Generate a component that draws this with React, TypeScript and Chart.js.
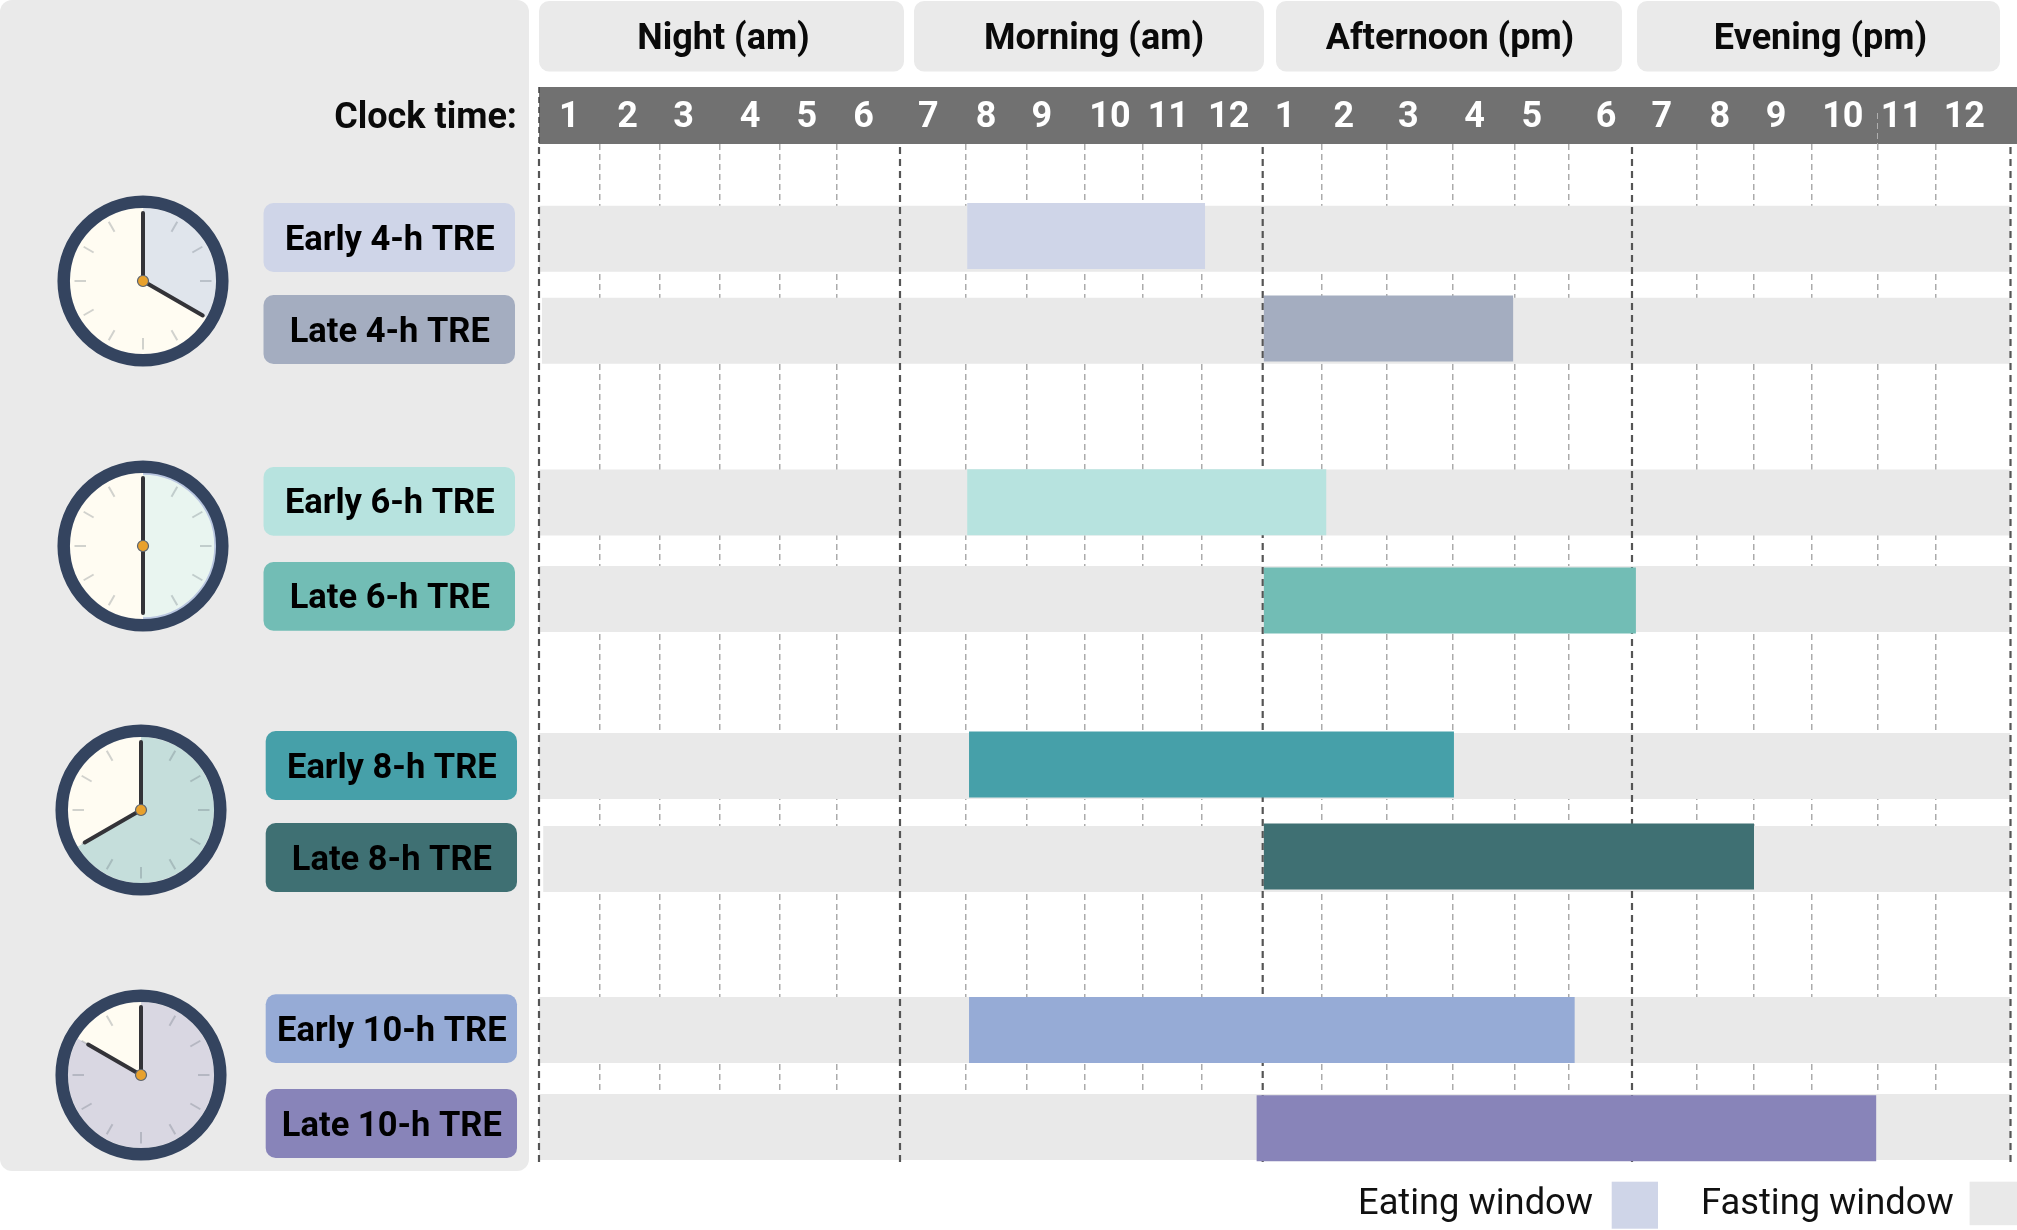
import React, { useEffect, useRef } from "react";
import { Chart, registerables, LinearScale, CategoryScale } from "chart.js";

// ---------- data ----------
const categories = [
  "Early 4-h TRE", "Late 4-h TRE",
  "Early 6-h TRE", "Late 6-h TRE",
  "Early 8-h TRE", "Late 8-h TRE",
  "Early 10-h TRE", "Late 10-h TRE",
];
const eatingStart = [8.02, 13.02, 8.02, 13.02, 8.05, 13.02, 8.05, 12.9];
const eatingEnd = [12.05, 16.97, 14.07, 19.06, 16.02, 21.0, 18.09, 22.98];
const fastingStart = [1, 1.05, 1, 1, 1, 1.07, 1, 1];
const fastingEnd = [25, 25, 25, 25, 25, 25, 25, 25];
const hourLabels = ["1","2","3","4","5","6","7","8","9","10","11","12","1","2","3","4","5","6","7","8","9","10","11","12"];
const hourLabelAt = [1.5,2.47,3.4,4.5,5.47,6.42,7.43,8.33,9.26,10.43,11.43,12.44,13.38,14.34,15.33,16.35,17.31,18.59,19.46,20.4,21.38,22.47,23.41,24.38];
const gridHours = [1,2,3,4,5,6,7,8,9,10,11,12,13,14,15,16,17,18,19,20,21,22,23,24,25];
const majorHours = [1, 7, 13, 19, 25];
const periods = ["Night (am)", "Morning (am)", "Afternoon (pm)", "Evening (pm)"];
const clockHours = [4, 6, 8, 10];

// ---------- styles & layout ----------
const barColors = ["#CFD5E8","#A4ADC0","#B7E3DF","#72BDB5","#46A0A9","#3F7073","#96ABD6","#8884B9"];
const clockSectors = ["#E0E5EC","#E9F5F0","#C5DEDB","#D9D7E2"];
const GREY = "#E9E9E9";
const FONT = "Roboto";
const W = 2017, H = 1230;
const hourPixels = [539,599.5,659.5,720,780,837,900,966,1026.6,1085,1143,1202,1262.7,1321.7,1386.6,1452.7,1515,1569,1632,1697,1754,1812,1877.5,1936,2010.5];
const rowCenters: Record<string, number[]> = {
  yFast: [238.7, 330.8, 502.5, 599, 766, 859, 1030, 1127],
  yEat: [236, 328.5, 502.3, 600.5, 764.5, 856.5, 1030, 1128.3],
};
const pillBoxes = [
  [263.5, 203, 515, 272], [263.5, 295, 515, 364],
  [263.5, 467, 515, 535.7], [263.5, 562, 515, 630.7],
  [265.7, 731, 517, 800], [265.7, 823, 517, 892],
  [265.7, 994.3, 517, 1063], [265.7, 1089, 517, 1158],
];
const periodBoxes = [[539, 904], [914, 1264], [1276, 1622], [1637, 2000]];
const periodTextShift = [2, 5, 1, 2];
const clockCenters = [[143, 280.5], [143, 546], [141, 810.4], [141, 1075]];
const handLengths = [69, 67, 65, 61];

// ---------- scales: non-uniform hour axis and hand-spaced rows ----------
class HourScale extends LinearScale {
  static id = "hour";
  static defaults = LinearScale.defaults;
  getPixelForValue(v: number) {
    const c = Math.max(1, Math.min(25, v));
    const i = Math.min(23, Math.floor(c) - 1);
    return hourPixels[i] + (c - 1 - i) * (hourPixels[i + 1] - hourPixels[i]);
  }
  getValueForPixel(p: number) {
    for (let i = 0; i < 24; i++) {
      if (p <= hourPixels[i + 1]) return i + 1 + (p - hourPixels[i]) / (hourPixels[i + 1] - hourPixels[i]);
    }
    return 25;
  }
}
class RowScale extends CategoryScale {
  static id = "row";
  static defaults = CategoryScale.defaults;
  getPixelForValue(v: number) {
    return rowCenters[this.id][Math.round(v)];
  }
}
Chart.register(...registerables, HourScale, RowScale);

function roundRect(ctx: CanvasRenderingContext2D, x0: number, y0: number, x1: number, y1: number, r: number, color: string) {
  ctx.beginPath();
  ctx.roundRect(x0, y0, x1 - x0, y1 - y0, r);
  ctx.fillStyle = color;
  ctx.fill();
}

const backdropPlugin = {
  id: "backdrop",
  beforeDraw(chart: any) {
    const ctx: CanvasRenderingContext2D = chart.ctx;
    ctx.save();
    roundRect(ctx, 0, 0, 529, 1171, 12, "#EAEAEA");
    periodBoxes.forEach(([a, b]) => roundRect(ctx, a, 1, b, 71.5, 10, "#EAEAEA"));
    ctx.fillStyle = "#717171";
    ctx.fillRect(539, 87, 2017 - 539, 57);
    // dashed marks running through the clock-time band
    const xs = chart.scales.x;
    ctx.lineWidth = 1;
    ctx.setLineDash([6, 4]);
    ctx.strokeStyle = "#AFAFAF";
    ctx.beginPath();
    ctx.moveTo(xs.getPixelForValue(23), 113);
    ctx.lineTo(xs.getPixelForValue(23), 144);
    ctx.stroke();
    ctx.strokeStyle = "#444";
    ctx.lineWidth = 1.5;
    ctx.beginPath();
    ctx.moveTo(xs.getPixelForValue(1), 87);
    ctx.lineTo(xs.getPixelForValue(1), 144);
    ctx.stroke();
    ctx.setLineDash([]);
    ctx.restore();
  },
  afterDraw(chart: any) {
    const ctx: CanvasRenderingContext2D = chart.ctx;
    ctx.save();
    ctx.textBaseline = "alphabetic";
    // period headers
    ctx.fillStyle = "#0A0A0A";
    ctx.textAlign = "center";
    ctx.font = `bold 36px ${FONT}`;
    periods.forEach((t, i) => ctx.fillText(t, (periodBoxes[i][0] + periodBoxes[i][1]) / 2 + periodTextShift[i], 49));
    // clock time
    ctx.textAlign = "right";
    ctx.font = `bold 36px ${FONT}`;
    ctx.fillText("Clock time:", 517, 128);
    // row pills
    categories.forEach((t, i) => {
      const [a, b, c, d] = pillBoxes[i];
      roundRect(ctx, a, b, c, d, 10, barColors[i]);
      ctx.fillStyle = "#000";
      ctx.textAlign = "center";
      ctx.font = `bold 34.5px ${FONT}`;
      ctx.fillText(t, (a + c) / 2 + 0.5, (b + d) / 2 + 12);
    });
    // legend
    ctx.font = `36.3px ${FONT}`;
    ctx.fillStyle = "#111";
    ctx.textAlign = "left";
    ctx.fillText("Eating window", 1358, 1214);
    ctx.fillText("Fasting window", 1701, 1214);
    ctx.fillStyle = barColors[0];
    ctx.fillRect(1611.7, 1181.7, 46.3, 47);
    ctx.fillStyle = GREY;
    ctx.fillRect(1969.6, 1181.7, 47.4, 43.5);
    ctx.restore();
  },
};

const noWidth = (s: any) => { s.width = 0; };
const fixHorizontal = (height: number) => (s: any) => {
  s.height = height;
  s.paddingLeft = 0;
  s.paddingRight = 0;
};

function MainChart() {
  const ref = useRef<HTMLCanvasElement>(null);
  useEffect(() => {
    const chart = new Chart(ref.current!, {
      type: "bar",
      data: {
        labels: categories,
        datasets: [
          {
            type: "bar",
            label: "Fasting window",
            data: categories.map((_, i) => [fastingStart[i], fastingEnd[i]]),
            backgroundColor: GREY,
            xAxisID: "x",
            yAxisID: "yFast",
            order: 3,
            grouped: false,
            maxBarThickness: 66,
          },
          ...majorHours.map((h) => ({
            type: "line",
            label: `Boundary ${h}`,
            indexAxis: "x",
            data: [{ x: h, y: 0 }, { x: h, y: 1 }],
            xAxisID: "x",
            yAxisID: "yLine",
            borderColor: "#555555",
            borderWidth: 2.2,
            borderDash: [7, 5],
            pointRadius: 0,
            order: 2,
            clip: 4,
          })),
          {
            type: "bar",
            label: "Eating window",
            data: categories.map((_, i) => [eatingStart[i], eatingEnd[i]]),
            backgroundColor: barColors,
            xAxisID: "x",
            yAxisID: "yEat",
            order: 1,
            grouped: false,
            maxBarThickness: 66,
          },
        ] as any,
      },
      options: {
        animation: false,
        responsive: false,
        indexAxis: "y",
        layout: { padding: { left: 539, right: W - 2010.5, top: 87, bottom: H - 1162 } },
        plugins: { legend: { display: false }, tooltip: { enabled: false } },
        scales: {
          x: {
            type: "hour",
            axis: "x",
            position: "bottom",
            min: 1,
            max: 25,
            offset: false,
            afterBuildTicks: (s: any) => { s.ticks = gridHours.map((value) => ({ value })); },
            afterFit: fixHorizontal(0),
            ticks: { display: false, autoSkip: false },
            grid: {
              offset: false,
              drawTicks: false,
              lineWidth: 1.5,
              color: (c: any) => (majorHours.includes(c.tick?.value) ? "transparent" : "#ABABAB"),
            },
            border: { display: false, dash: [6, 4] },
          },
          xTop: {
            type: "hour",
            axis: "x",
            position: "top",
            min: 1,
            max: 25,
            offset: false,
            afterBuildTicks: (s: any) => { s.ticks = hourLabelAt.map((value) => ({ value })); },
            afterFit: fixHorizontal(57),
            ticks: {
              autoSkip: false,
              maxRotation: 0,
              padding: 4.5,
              color: "#FFFFFF",
              font: { family: FONT, weight: "bold", size: 36 },
              callback: (_v: any, i: number) => hourLabels[i],
            },
            grid: { display: false, drawTicks: false, offset: false },
            border: { display: false },
          },
          yFast: { type: "row", axis: "y", display: false, afterFit: noWidth, grid: { display: false } },
          yEat: { type: "row", axis: "y", display: false, afterFit: noWidth, grid: { display: false } },
          yLine: { type: "linear", axis: "y", display: false, offset: false, min: 0, max: 1, afterFit: noWidth, grid: { display: false } },
        },
      } as any,
      plugins: [backdropPlugin],
    });
    return () => chart.destroy();
  }, []);
  return <canvas ref={ref} width={W} height={H} style={{ position: "absolute", left: 0, top: 0, display: "block" }} />;
}

const CLOCK_SIZE = 176;
function ClockChart({ hours, sector, center, handLength, edge }: { hours: number; sector: string; center: number[]; handLength: number; edge?: string }) {
  const ref = useRef<HTMLCanvasElement>(null);
  useEffect(() => {
    const face = {
      id: "face",
      afterDraw(chart: any) {
        const ctx: CanvasRenderingContext2D = chart.ctx;
        const c = CLOCK_SIZE / 2;
        const angle = (h: number) => (h * Math.PI) / 6 - Math.PI / 2;
        ctx.save();
        ctx.lineCap = "butt";
        // tick marks
        for (let h = 1; h < 12; h++) {
          const a = angle(h);
          ctx.beginPath();
          ctx.moveTo(c + 57 * Math.cos(a), c + 57 * Math.sin(a));
          ctx.lineTo(c + 68.5 * Math.cos(a), c + 68.5 * Math.sin(a));
          ctx.strokeStyle = "rgba(90,100,110,0.28)";
          ctx.lineWidth = 2;
          ctx.stroke();
        }
        if (edge) {
          ctx.beginPath();
          ctx.arc(c, c, 72.5, angle(0), angle(hours));
          ctx.strokeStyle = edge;
          ctx.lineWidth = 2.5;
          ctx.stroke();
        }
        // rim
        ctx.beginPath();
        ctx.arc(c, c, 79.3, 0, Math.PI * 2);
        ctx.strokeStyle = "#34445F";
        ctx.lineWidth = 12.5;
        ctx.stroke();
        // hands
        ctx.lineCap = "round";
        ctx.strokeStyle = "#333338";
        ctx.lineWidth = 4;
        ctx.beginPath();
        ctx.moveTo(c, c);
        ctx.lineTo(c, c - 68);
        ctx.stroke();
        const a = angle(hours);
        ctx.beginPath();
        ctx.moveTo(c, c);
        ctx.lineTo(c + handLength * Math.cos(a), c + handLength * Math.sin(a));
        ctx.stroke();
        // hub
        ctx.beginPath();
        ctx.arc(c, c, 5.5, 0, Math.PI * 2);
        ctx.fillStyle = "#E8A12D";
        ctx.fill();
        ctx.lineWidth = 1.2;
        ctx.strokeStyle = "#5A6472";
        ctx.stroke();
        ctx.restore();
      },
    };
    const chart = new Chart(ref.current!, {
      type: "pie",
      data: {
        labels: ["Eating", "Fasting"],
        datasets: [{ data: [hours, 12 - hours], backgroundColor: [sector, "#FFFCF2"], borderWidth: 0 }],
      },
      options: {
        animation: false,
        responsive: false,
        rotation: 0,
        layout: { padding: (CLOCK_SIZE - 146) / 2 },
        plugins: { legend: { display: false }, tooltip: { enabled: false } },
      } as any,
      plugins: [face],
    });
    return () => chart.destroy();
  }, []);
  return (
    <canvas
      ref={ref}
      width={CLOCK_SIZE}
      height={CLOCK_SIZE}
      style={{ position: "absolute", left: center[0] - CLOCK_SIZE / 2, top: center[1] - CLOCK_SIZE / 2, display: "block" }}
    />
  );
}

export default function App() {
  return (
    <div style={{ position: "absolute", left: 0, top: 0, width: W, height: H, overflow: "hidden", background: "#fff" }}>
      <MainChart />
      {clockHours.map((h, i) => (
        <ClockChart key={i} hours={h} sector={clockSectors[i]} center={clockCenters[i]} handLength={handLengths[i]} edge={h === 6 ? "#B9C6E0" : undefined} />
      ))}
    </div>
  );
}
